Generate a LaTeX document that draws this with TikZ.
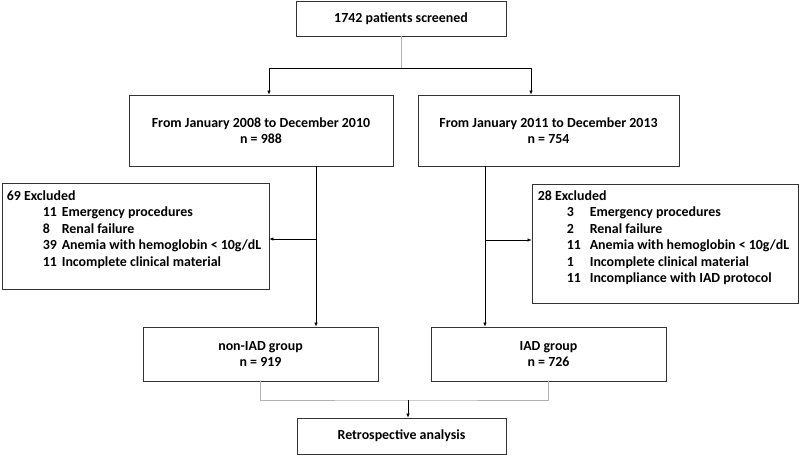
\documentclass[tikz,border=0pt]{standalone}
\usepackage{fontspec}
\setmainfont{Carlito}
\usetikzlibrary{arrows.meta}
\begin{document}
\begin{tikzpicture}[x=1pt,y=-1pt,
  box/.style={draw=black!80,line width=0.8pt,inner sep=0pt,align=center,
    font=\bfseries\fontsize{13.9}{16.5}\selectfont},
  txt/.style={inner sep=0pt,align=left,font=\bfseries\fontsize{13.9}{16.4}\selectfont},
  arr/.style={line width=0.7pt,-{Latex[length=4pt,width=3.5pt]}},
  link/.style={draw=gray!60,line width=0.8pt}]
\useasboundingbox (0,0) rectangle (800,455);
\node[box,minimum width=210pt,minimum height=35pt] (top) at (401,18.5) {1742 patients screened};
\node[box,minimum width=264pt,minimum height=71pt] (midl) at (261,130.5) {From January 2008 to December 2010\\ n = 988};
\node[box,minimum width=261pt,minimum height=71pt] (midr) at (548.5,130.5) {From January 2011 to December 2013\\ n = 754};
\node[box,minimum width=267pt,minimum height=106pt] (exl) at (135.5,236) {};
\node[box,minimum width=266pt,minimum height=119pt] (exr) at (665,243.5) {};
\node[box,minimum width=235pt,minimum height=54pt] (grpl) at (260.5,354) {non-IAD group\\ n = 919};
\node[box,minimum width=235pt,minimum height=54pt] (grpr) at (548.5,354) {IAD group\\ n = 726};
\node[box,minimum width=209pt,minimum height=36pt] (fin) at (401.5,436) {Retrospective analysis};
\node[txt,anchor=north west] (exltxt) at ([xshift=5pt,yshift=-8pt]exl.north west)
  {69 Excluded\\
   \hspace{36pt}\makebox[19pt][l]{11}Emergency procedures\\
   \hspace{36pt}\makebox[19pt][l]{8}Renal failure\\
   \hspace{36pt}\makebox[19pt][l]{39}Anemia with hemoglobin < 10g/dL\\
   \hspace{36pt}\makebox[19pt][l]{11}Incomplete clinical material};
\node[txt,anchor=north west] (exrtxt) at ([xshift=6pt,yshift=-7pt]exr.north west)
  {28 Excluded\\
   \hspace{29pt}\makebox[23pt][l]{3}Emergency procedures\\
   \hspace{29pt}\makebox[23pt][l]{2}Renal failure\\
   \hspace{29pt}\makebox[23pt][l]{11}Anemia with hemoglobin < 10g/dL\\
   \hspace{29pt}\makebox[23pt][l]{1}Incomplete clinical material\\
   \hspace{29pt}\makebox[23pt][l]{11}Incompliance with IAD protocol};
\coordinate (split) at (401,68);
\coordinate (lv) at (316,239);
\coordinate (rv) at (485,240);
\coordinate (merge) at (408,400);
\draw[link] (top) -- (split);
\draw[arr] (split) -| ([xshift=8pt]midl.north);
\draw[arr] (split) -| ([xshift=-17.5pt]midr.north);
\draw[arr] (midl.south -| lv) -- (grpl.north -| lv);
\draw[arr] (lv) -- (lv -| exl.east);
\draw[arr] (midr.south -| rv) -- (grpr.north -| rv);
\draw[arr] (rv) -- (rv -| exr.west);
\draw[link] (grpl.south) |- (merge) -| (grpr.south);
\draw[arr] (merge) -- (merge |- fin.north);
\end{tikzpicture}
\end{document}
